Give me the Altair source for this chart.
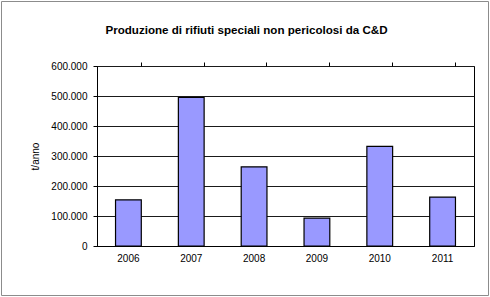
import altair as alt
import pandas as pd

years = ["2006", "2007", "2008", "2009", "2010", "2011"]
values = [154000, 495000, 264000, 93000, 332000, 163000]
y_ticks = [0, 100000, 200000, 300000, 400000, 500000, 600000]

df = pd.DataFrame({"anno": years, "valore": values})

W, H = 377, 180
FONT = "Liberation Sans"

xscale = alt.Scale(paddingInner=0.59, paddingOuter=0.295)
yscale = alt.Scale(domain=[0, 600000])

label_expr = "replace(format(datum.value, ','), ',', '.')"

bars = alt.Chart(df).mark_bar(
    color="#9999FF", stroke="#000000", strokeWidth=1.2
).encode(
    x=alt.X("anno:N", scale=xscale, sort=years,
            axis=alt.Axis(title=None, labelAngle=0, ticks=False, labelPadding=7,
                          domain=True, domainColor="#000000", labelFontSize=10,
                          labelColor="#000000", labelFont=FONT)),
    y=alt.Y("valore:Q", scale=yscale,
            axis=alt.Axis(title="t/anno", values=y_ticks, labelExpr=label_expr,
                          grid=True, gridColor="#1a1a1a", gridWidth=1,
                          domainColor="#000000", tickColor="#000000", tickSize=4,
                          labelPadding=6, labelFontSize=10, labelColor="#000000",
                          labelFont=FONT, titleFont=FONT, titleFontSize=10,
                          titleFontWeight="normal", titleColor="#000000",
                          titlePadding=10)),
)

ticks = alt.Chart(df).mark_bar(opacity=0).encode(
    x=alt.X("anno:N", scale=xscale, sort=years,
            axis=alt.Axis(title=None, labels=False, domain=False, ticks=True,
                          bandPosition=1, tickColor="#000000", tickSize=4)),
)

frame = alt.Chart(alt.Data(values=[{}])).mark_rect(
    fillOpacity=0, stroke="#8c8c8c", strokeWidth=1
).encode(
    x=alt.value(-95.5), x2=alt.value(391.5),
    y=alt.value(-64.5), y2=alt.value(229.5),
)

chart = alt.layer(bars, ticks, frame).resolve_axis(x="independent").properties(
    width=W, height=H,
    title=alt.TitleParams(
        "Produzione di rifiuti speciali non pericolosi da C&D",
        font=FONT, fontSize=11.6, fontWeight="bold", color="#000000",
        anchor="middle", baseline="alphabetic", offset=-45, dx=-39,
    ),
    autosize=alt.AutoSizeParams(type="none"),
    padding={"left": 97, "top": 66, "right": 16, "bottom": 51},
    background="#ffffff",
).configure_view(stroke="#000000", strokeWidth=1)

chart.save("out.html", embed_options={"renderer": "svg", "actions": False})
